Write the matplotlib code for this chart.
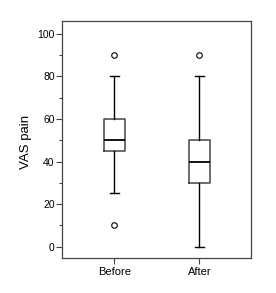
import matplotlib
matplotlib.use("Agg")
import matplotlib.pyplot as plt
from matplotlib.ticker import MultipleLocator

plt.rcParams['font.family'] = ['Liberation Sans', 'DejaVu Sans']

categories = ["Before", "After"]
q1 = [45, 30]
medians = [50, 40]
q3 = [60, 50]
whisker_low = [25, 0]
whisker_high = [80, 80]
outliers = [[10, 90], [90]]

stats = []
for i, c in enumerate(categories):
    stats.append(dict(label=c, q1=q1[i], med=medians[i], q3=q3[i],
                      whislo=whisker_low[i], whishi=whisker_high[i],
                      fliers=outliers[i]))

fig = plt.figure(figsize=(2.76, 2.93), dpi=100)
ax = fig.add_axes([0.2257, 0.1195, 0.908 - 0.2257, 0.928 - 0.1195])
ax.bxp(stats, positions=[1, 2], widths=0.25,
       boxprops=dict(color='#444444', linewidth=1.1),
       medianprops=dict(color='black', linewidth=1.3),
       whiskerprops=dict(color='black', linewidth=1.0),
       capprops=dict(color='black', linewidth=1.0),
       flierprops=dict(marker='o', markersize=4, markerfacecolor='none',
                       markeredgecolor='black', markeredgewidth=0.8),
       capwidths=0.11)
ax.set_xlim(0.39, 2.6)
ax.set_ylim(-5.3, 106)
ax.set_yticks([0, 20, 40, 60, 80, 100])
ax.yaxis.set_minor_locator(MultipleLocator(10))
ax.set_xticks([1, 2])
ax.set_xticklabels(categories)
ax.set_ylabel("VAS pain", fontsize=9.5)
ax.yaxis.set_label_coords(-0.161, 0.49)
ax.tick_params(axis='y', which='major', labelsize=7.5, length=4, width=0.8,
               color='#444444', pad=1.5)
ax.tick_params(axis='x', which='major', labelsize=8, length=4, width=0.8,
               color='#444444', pad=2.5)
ax.tick_params(axis='y', which='minor', length=2.5, width=0.8, color='#444444')
for s in ax.spines.values():
    s.set_color('#444444')
    s.set_linewidth(0.9)
fig.savefig("out.png", dpi=100)
